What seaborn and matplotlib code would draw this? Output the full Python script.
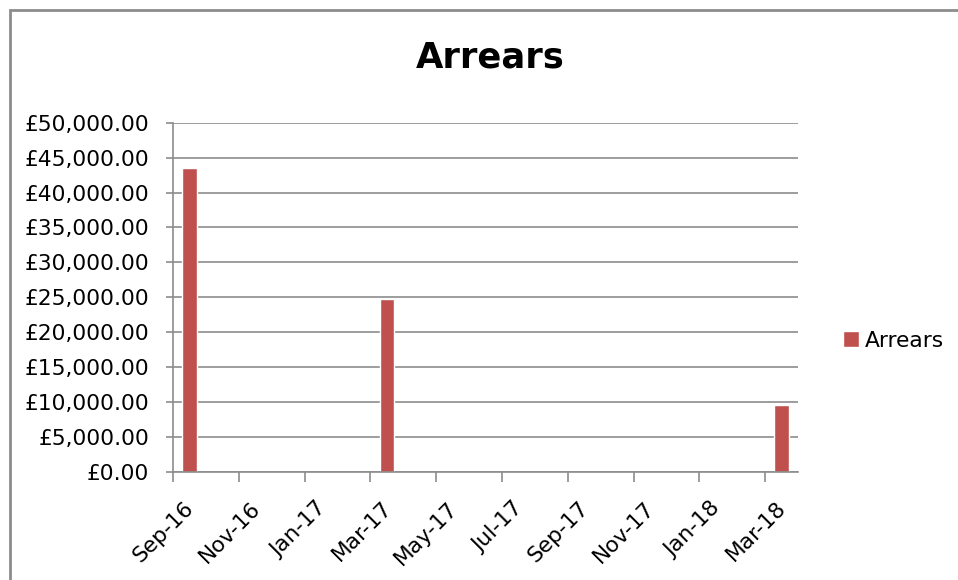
import seaborn as sns
import pandas as pd
import matplotlib.pyplot as plt
import matplotlib.transforms as mtransforms
from matplotlib.patches import Rectangle
from matplotlib.ticker import FuncFormatter

# data
months = ['Sep-16', 'Mar-17', 'Mar-18']
arrears = [43470, 24740, 9550]
tick_labels = ['Sep-16', 'Nov-16', 'Jan-17', 'Mar-17', 'May-17',
               'Jul-17', 'Sep-17', 'Nov-17', 'Jan-18', 'Mar-18']

# date axis: one slot per month
all_months = pd.period_range('2016-09', '2018-03', freq='M').strftime('%b-%y').tolist()

bar_color = '#C0504D'
grey = '#8c8c8c'
fs = 15.7

sns.set_theme(style="white")
plt.rcParams['font.family'] = ['DejaVu Sans']
plt.rcParams['text.color'] = 'black'

fig = plt.figure(figsize=(9.58, 5.8), dpi=100)
ax = fig.add_axes([0.1806, 0.1867, 0.6524, 0.6017])

df = pd.DataFrame({'Month': months, 'Arrears': arrears})
sns.barplot(data=df, x='Month', y='Arrears', order=all_months, color=bar_color,
            saturation=1, width=0.43, errorbar=None, label='Arrears', ax=ax)

ax.set_xlim(-0.5, len(all_months) - 0.5)
ax.set_ylim(0, 50000)
ax.set_yticks(range(0, 50001, 5000))
ax.yaxis.set_major_formatter(FuncFormatter(lambda v, p: '£{:,.2f}'.format(v)))
ax.set_xlabel('')
ax.set_ylabel('')

tick_pos = [i - 0.5 for i in range(0, len(all_months), 2)]
ax.set_xticks(tick_pos, tick_labels, rotation=45, ha='right', va='center',
              rotation_mode='anchor')

ax.yaxis.grid(True, color=grey, linewidth=1.2)
ax.set_axisbelow(True)
for side in ['top', 'right']:
    ax.spines[side].set_visible(False)
for side in ['left', 'bottom']:
    ax.spines[side].set_color(grey)
    ax.spines[side].set_linewidth(1.2)

ax.tick_params(axis='y', left=True, length=5, width=1.2, color=grey,
               pad=12, labelsize=fs, labelcolor='black')
ax.tick_params(axis='x', bottom=True, length=7, width=1.2, color=grey,
               pad=17, labelsize=fs, labelcolor='black')

# Excel puts the rotated date labels a little right of their ticks
shift = mtransforms.ScaledTranslation(18 / 100, 0, fig.dpi_scale_trans)
for lab in ax.get_xticklabels():
    lab.set_transform(lab.get_transform() + shift)

fig.text(490 / 958, 1 - 68 / 580, 'Arrears', ha='center', va='baseline',
         fontsize=25.5, fontweight='bold', color='black')

ax.legend(loc='center left', bbox_to_anchor=(834 / 958, 1 - 341 / 580),
          bbox_transform=fig.transFigure, frameon=False, fontsize=fs,
          borderaxespad=0, handlelength=0.75, handleheight=0.75,
          handletextpad=0.28)

# chart area border (left and top edges visible)
fig.add_artist(Rectangle((9.5 / 958, -0.5), 2, 0.5 + 1 - 10.5 / 580,
                         transform=fig.transFigure, fill=False,
                         edgecolor=grey, linewidth=2))

fig.savefig('out.png', dpi=100)
